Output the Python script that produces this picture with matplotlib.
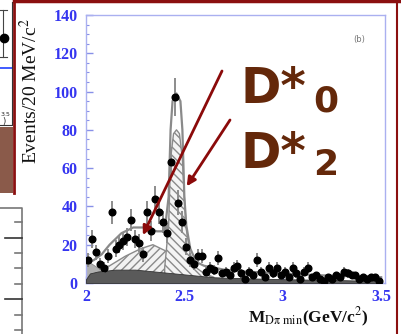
import numpy as np
import matplotlib
matplotlib.use("Agg")
import matplotlib.pyplot as plt
from matplotlib.patches import Rectangle
from matplotlib.lines import Line2D

plt.rcParams["mathtext.fontset"] = "stix"

W, H = 402, 334

# M(D pi)min histogram, 20 MeV bins from 2.0 to 3.5 GeV/c^2
bin_lo, bin_width = 2.0, 0.02
counts = [12, 23, 16, 10, 8, 14, 37, 18, 20, 22,
          24, 33, 23, 21, 15, 37, 27, 44, 37, 32,
          26, 63, 97, 42, 32, 19, 12, 10, 14, 14,
          6, 8, 7, 13, 5, 6, 4, 8, 9, 5,
          2, 6, 4, 12, 6, 3, 8, 5, 8, 4,
          6, 3, 8, 5, 2, 6, 8, 3, 4, 2,
          1, 3, 2, 4, 3, 6, 5, 4, 4, 2,
          3, 2, 3, 3, 1]

# fit components (knots)
total_m = [2.00, 2.04, 2.08, 2.12, 2.18, 2.24, 2.30, 2.36, 2.40, 2.42, 2.43, 2.44,
           2.46, 2.48, 2.49, 2.50, 2.51, 2.53, 2.56, 2.60, 2.70, 2.80, 3.00, 3.20, 3.50]
total_n = [10, 12, 15, 20, 26, 29, 29, 27, 27, 45, 80, 95,
           99, 95, 80, 45, 30, 18, 11, 9, 7, 6, 5, 4, 3]

d0_m = [2.06, 2.12, 2.20, 2.28, 2.34, 2.40, 2.46, 2.52, 2.56, 2.62]
d0_n = [7, 9, 14, 18, 20, 17, 13, 9, 6, 4]

d2_m = [2.40, 2.42, 2.43, 2.445, 2.46, 2.475, 2.49, 2.50, 2.51, 2.53, 2.56, 2.60, 2.65]
d2_n = [8, 30, 65, 78, 80, 78, 65, 45, 28, 15, 8, 5, 3]

feed_m = [2.00, 2.03, 2.06, 2.10, 2.14]
feed_n = [12, 10, 8, 6, 4]

bkg_m = [2.00, 2.02, 2.06, 2.15, 2.25, 2.35, 2.45, 2.55, 2.65, 2.80, 3.00, 3.30, 3.50]
bkg_n = [2, 5, 6, 7, 7, 6, 5, 4, 3, 2.5, 2, 1.5, 1]

yticks = [0, 20, 40, 60, 80, 100, 120, 140]
xticks = [2, 2.5, 3, 3.5]
xtick_labels = ["2", "2.5", "3", "3.5"]

counts = np.array(counts, dtype=float)
centers = bin_lo + bin_width * (np.arange(len(counts)) + 0.5)
errs = np.sqrt(counts)

fig = plt.figure(figsize=(W / 100, H / 100), dpi=100)
fig.patch.set_facecolor("white")


def fx(x):
    return x / W


def fy(y):
    return 1 - y / H


# pieces of the neighbouring panels on the left
fig.add_artist(Rectangle((fx(0), fy(193)), fx(13), 66 / H, transform=fig.transFigure,
                         facecolor="#8a5a4a", edgecolor="none"))
fig.add_artist(Line2D([fx(14), fx(14)], [fy(0), fy(193)], transform=fig.transFigure,
                      color="#8b1010", lw=2))
fig.add_artist(Line2D([fx(0), fx(12)], [fy(68), fy(68)], transform=fig.transFigure,
                      color="#2040ff", lw=1.2))
fig.add_artist(Line2D([fx(12), fx(12), fx(0)], [fy(2), fy(125), fy(125)], transform=fig.transFigure,
                      color="#333333", lw=0.8))
fig.add_artist(Line2D([fx(3), fx(3)], [fy(10), fy(57)], transform=fig.transFigure,
                      color="#444444", lw=0.8))
for yy in (10, 57):
    fig.add_artist(Line2D([fx(0), fx(7)], [fy(yy), fy(yy)], transform=fig.transFigure,
                          color="#444444", lw=0.8))
fig.add_artist(Line2D([fx(4)], [fy(38)], transform=fig.transFigure, marker="o",
                      color="black", ms=6))
fig.text(fx(0.5), fy(116), "3.5", fontsize=4.5, family="DejaVu Sans", color="#222222")
fig.text(fx(2), fy(124), ")", fontsize=6, family="DejaVu Sans", color="#222222")

# axis stub of the panel below
fig.add_artist(Line2D([fx(0), fx(22), fx(22)], [fy(208), fy(208), fy(334)],
                      transform=fig.transFigure, color="#777777", lw=1.2))
for yy, major in [(222, False), (238, True), (253, False), (268, False), (284, False),
                  (299, True), (315, False), (330, False)]:
    x0 = 5 if major else 15
    fig.add_artist(Line2D([fx(x0), fx(22)], [fy(yy), fy(yy)], transform=fig.transFigure,
                          color="#333333" if major else "#777777", lw=1.2))

# frame of this panel
fig.add_artist(Line2D([fx(14), fx(402)], [fy(1), fy(1)], transform=fig.transFigure,
                      color="#8b1010", lw=2.5))
fig.add_artist(Line2D([fx(397), fx(397)], [fy(0), fy(334)], transform=fig.transFigure,
                      color="#8b1010", lw=1.5))

ax = fig.add_axes([86 / W, 51 / H, 299 / W, 268 / H])
ax.set_xlim(2.005, 3.52)
ax.set_ylim(0, 140)

# fit components
ax.fill_between(d0_m, 0, d0_n, facecolor="#f2f2f2", edgecolor="#8a8a8a",
                hatch="////", lw=1.0, zorder=1)
ax.fill_between(d2_m, 0, d2_n, facecolor="#f4f4f4", edgecolor="#8a8a8a",
                hatch="\\\\\\\\", lw=1.0, zorder=2)
ax.fill_between(feed_m, 0, feed_n, facecolor="#b0b0b0", edgecolor="#888888",
                lw=0.6, zorder=2)
ax.fill_between(bkg_m, 0, bkg_n, facecolor="#5a5a5a", edgecolor="#333333",
                lw=0.6, zorder=3)
ax.plot(total_m, total_n, color="#8a8a8a", lw=1.6, zorder=4)

# data
ax.errorbar(centers, counts, yerr=errs, fmt="o", color="black", ms=4.8,
            ecolor="#8c8c8c", elinewidth=1.4, capsize=0, zorder=5)

for s in ax.spines.values():
    s.set_color("#aab0f0")
    s.set_linewidth(1.0)

ax.set_yticks(yticks)
ax.set_yticks(np.arange(0, 141, 5), minor=True)
ax.set_xticks(xticks)
ax.set_xticklabels(xtick_labels)
ax.set_xticks(np.arange(2.0, 3.51, 0.1), minor=True)
ax.tick_params(which="both", direction="in", color="#8890e8", labelcolor="#3535f0")
ax.tick_params(which="major", length=5, width=1.0)
ax.tick_params(which="minor", length=2.5, width=0.8)
ax.tick_params(axis="y", pad=6)
ax.tick_params(axis="x", pad=4)
for lab in ax.get_xticklabels() + ax.get_yticklabels():
    lab.set_family("Liberation Serif")
    lab.set_fontweight("bold")
    lab.set_fontsize(11.5)

fig.text(fx(30), fy(91), "Events/20 MeV/c$^2$", rotation=90, ha="center", va="center",
         fontsize=14, family="Liberation Serif", color="#111111")
fig.text(fx(308), fy(323), r"M$_{\mathrm{D\pi\ min}}$(GeV/c$^2$)", ha="center",
         va="baseline", fontsize=12.5, family="Liberation Serif", fontweight="bold",
         color="#111111")

ax.text(3.39, 127, "(b)", fontsize=6, color="#777777", ha="center", va="center",
        family="DejaVu Sans")

# labels for the two resonances
brown = "#64280a"
fig.text(fx(241), fy(103), "D*", fontsize=35, fontweight="bold", color=brown,
         family="DejaVu Sans", va="baseline")
fig.text(fx(313), fy(112), "0", fontsize=26, fontweight="bold", color=brown,
         family="DejaVu Sans", va="baseline")
fig.text(fx(241), fy(168), "D*", fontsize=35, fontweight="bold", color=brown,
         family="DejaVu Sans", va="baseline")
fig.text(fx(313), fy(175), "2", fontsize=26, fontweight="bold", color=brown,
         family="DejaVu Sans", va="baseline")

arrow = dict(arrowstyle="-|>", color="#8b0a0a", lw=2, mutation_scale=13,
             shrinkA=0, shrinkB=0)
ax.annotate("", xy=(2.289, 25), xycoords="data", xytext=(222, H - 71),
            textcoords="figure pixels", arrowprops=arrow, zorder=6)
ax.annotate("", xy=(2.512, 50.5), xycoords="data", xytext=(230, H - 120),
            textcoords="figure pixels", arrowprops=arrow, zorder=6)

fig.savefig("out.png", dpi=100)
